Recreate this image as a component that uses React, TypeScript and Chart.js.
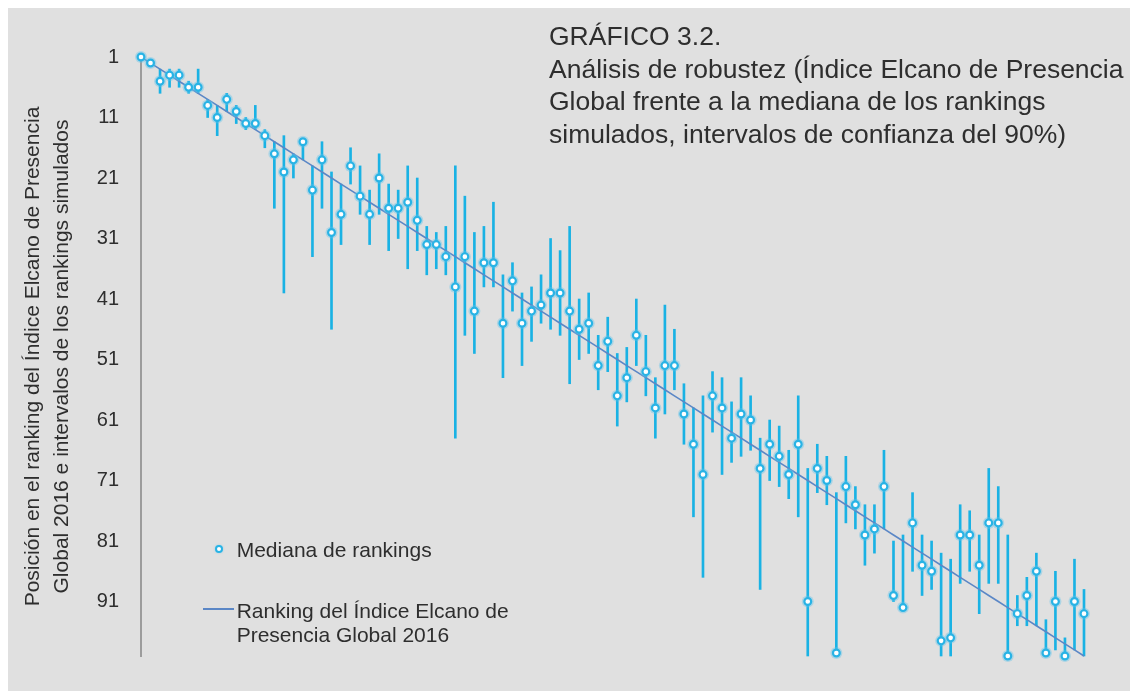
import React, { useEffect, useRef } from "react";
import { Chart, registerables } from "chart.js";

Chart.register(...registerables);

// Ranking del Índice Elcano de Presencia Global 2016 (posición de cada país)
const ranking = [
  1, 2, 3, 4, 5, 6, 7, 8, 9, 10,
  11, 12, 13, 14, 15, 16, 17, 18, 19, 20,
  21, 22, 23, 24, 25, 26, 27, 28, 29, 30,
  31, 32, 33, 34, 35, 36, 37, 38, 39, 40,
  41, 42, 43, 44, 45, 46, 47, 48, 49, 50,
  51, 52, 53, 54, 55, 56, 57, 58, 59, 60,
  61, 62, 63, 64, 65, 66, 67, 68, 69, 70,
  71, 72, 73, 74, 75, 76, 77, 78, 79, 80,
  81, 82, 83, 84, 85, 86, 87, 88, 89, 90,
  91, 92, 93, 94, 95, 96, 97, 98, 99, 100,
];

// Mediana de los rankings simulados
const medians = [
  1, 2, 5, 4, 4, 6, 6, 9, 11, 8,
  10, 12, 12, 14, 17, 20, 18, 15, 23, 18,
  30, 27, 19, 24, 27, 21, 26, 26, 25, 28,
  32, 32, 34, 39, 34, 43, 35, 35, 45, 38,
  45, 43, 42, 40, 40, 43, 46, 45, 52, 48,
  57, 54, 47, 53, 59, 52, 52, 60, 65, 70,
  57, 59, 64, 60, 61, 69, 65, 67, 70, 65,
  91, 69, 71, 99.5, 72, 75, 80, 79, 72, 90,
  92, 78, 85, 86, 97.5, 97, 80, 80, 85, 78,
  78, 100, 93, 90, 86, 99.5, 91, 100, 91, 93,
];

// Límite superior del intervalo (mejor posición, 90%)
const lowerBounds = [
  1, 2, 3, 3, 3, 5, 3, 8, 9, 7,
  9, 11, 9, 13, 15, 14, 17, 15, 19, 15,
  20, 22, 16, 19, 23, 17, 22, 23, 19, 21,
  29, 30, 29, 19, 24, 30, 29, 25, 37, 35,
  40, 39, 37, 31, 33, 29, 41, 40, 47, 44,
  50, 49, 41, 47, 54, 42, 46, 55, 59, 57,
  53, 54, 58, 54, 57, 64, 61, 62, 66, 57,
  69, 65, 67, 73, 67, 72, 75, 75, 66, 81,
  80, 73, 80, 81, 83, 84, 75, 76, 80, 69,
  72, 80, 90, 87, 83, 94, 86, 97, 84, 89,
];

// Límite inferior del intervalo (peor posición, 90%)
const upperBounds = [
  1, 2, 7, 6, 6, 7, 7, 11, 14, 10,
  12, 13, 13, 16, 26, 40, 21, 18, 34, 26,
  46, 32, 22, 27, 32, 27, 33, 31, 36, 33,
  37, 36, 37, 64, 47, 50, 39, 39, 54, 43,
  52, 48, 45, 46, 47, 55, 51, 50, 56, 53,
  62, 58, 52, 57, 64, 60, 56, 65, 77, 87,
  63, 70, 68, 67, 66, 89, 71, 72, 74, 77,
  100, 73, 75, 99.5, 78, 79, 85, 83, 79, 91,
  92, 86, 90, 89, 100, 100, 88, 86, 93, 88,
  88, 100, 95, 95, 95, 99.5, 99, 100, 99, 100,
];

const yTicks = [1, 11, 21, 31, 41, 51, 61, 71, 81, 91];

const FONT = '"Liberation Sans", Arial, Helvetica, sans-serif';
const TEXT = "#2e2e2e";

export default function App() {
  const ref = useRef<HTMLCanvasElement | null>(null);

  useEffect(() => {
    const canvas = ref.current;
    if (!canvas) return;
    const medianPoints = ranking.map((r, i) => ({ x: r, y: medians[i] }));
    const chart = new Chart(canvas, {
      type: "scatter",
      data: {
        datasets: [
          {
            type: "scatter",
            label: "Mediana de rankings",
            data: medianPoints,
            pointRadius: 3.4,
            pointBorderWidth: 2.2,
            pointBorderColor: "#29b3e5",
            pointBackgroundColor: "#ffffff",
            order: 0,
            clip: false,
          } as any,
          {
            type: "scatter",
            label: "halo",
            data: medianPoints,
            pointRadius: 6,
            pointBorderWidth: 0,
            pointBackgroundColor: "rgba(95,195,236,0.4)",
            order: 1,
            clip: false,
          } as any,
          {
            type: "line",
            label: "Ranking del Índice Elcano de Presencia Global 2016",
            data: ranking.map((r) => ({ x: r, y: r })),
            borderColor: "#5b87c6",
            borderWidth: 1.6,
            pointRadius: 0,
            tension: 0,
            fill: false,
            order: 2,
            clip: false,
          } as any,
          {
            type: "bar",
            label: "Intervalo de confianza del 90%",
            data: ranking.map((r, i) => ({ x: r, y: [lowerBounds[i], upperBounds[i]] })),
            backgroundColor: "#1ab2e4",
            borderWidth: 0,
            barThickness: 2,
            order: 3,
            clip: false,
          } as any,
        ],
      },
      options: {
        animation: false,
        responsive: false,
        devicePixelRatio: 1,
        layout: { padding: { left: 0, top: 49, right: 46, bottom: 35 } },
        plugins: {
          legend: { display: false },
          tooltip: { enabled: false },
          title: { display: false },
        },
        scales: {
          x: {
            type: "linear",
            min: 1,
            max: 100,
            display: false,
            offset: false,
          },
          y: {
            type: "linear",
            reverse: true,
            min: 1,
            max: 100,
            afterBuildTicks: (scale: any) => {
              scale.ticks = yTicks.map((v) => ({ value: v }));
            },
            afterFit: (scale: any) => {
              scale.width = 133;
            },
            grid: { display: false, drawTicks: false },
            border: { display: true, color: "#9c9c9c", width: 2 },
            ticks: {
              font: { family: FONT, size: 20 },
              color: TEXT,
              padding: 22,
            },
            title: {
              display: true,
              text: [
                "Posición en el ranking del Índice Elcano de Presencia",
                "Global 2016 e intervalos de los rankings simulados",
              ],
              font: { family: FONT, size: 21, lineHeight: 29 / 21 },
              color: TEXT,
              padding: { top: 11, bottom: 0 },
            },
          },
        },
      } as any,
    });
    return () => chart.destroy();
  }, []);

  return (
    <div
      style={{
        position: "fixed",
        left: 8,
        top: 8,
        width: 1122,
        height: 683,
        background: "#e0e0e0",
        overflow: "hidden",
        fontFamily: FONT,
        color: TEXT,
      }}
    >
      <canvas ref={ref} width={1122} height={683} style={{ position: "absolute", left: 0, top: 0 }} />
      <div
        style={{
          position: "absolute",
          left: 541,
          top: 12,
          fontSize: 26.5,
          lineHeight: "32.6px",
          whiteSpace: "nowrap",
        }}
      >
        GRÁFICO 3.2.
        <br />
        Análisis de robustez (Índice Elcano de Presencia
        <br />
        Global frente a la mediana de los rankings
        <br />
        simulados, intervalos de confianza del 90%)
      </div>
      <div
        style={{
          position: "absolute",
          left: 206.5,
          top: 537.2,
          width: 4,
          height: 4,
          borderRadius: "50%",
          border: "2px solid #29b3e5",
          background: "#ffffff",
          boxShadow: "0 0 2px rgba(95,195,236,0.6)",
        }}
      />
      <div
        style={{
          position: "absolute",
          left: 228.7,
          top: 529.7,
          fontSize: 21,
          lineHeight: "23.4px",
          whiteSpace: "nowrap",
        }}
      >
        Mediana de rankings
      </div>
      <div
        style={{
          position: "absolute",
          left: 194.7,
          top: 600.2,
          width: 31,
          height: 1.6,
          background: "#5b87c6",
        }}
      />
      <div
        style={{
          position: "absolute",
          left: 228.7,
          top: 591.3,
          fontSize: 21,
          lineHeight: "23.4px",
          whiteSpace: "nowrap",
        }}
      >
        Ranking del Índice Elcano de
        <br />
        Presencia Global 2016
      </div>
    </div>
  );
}
